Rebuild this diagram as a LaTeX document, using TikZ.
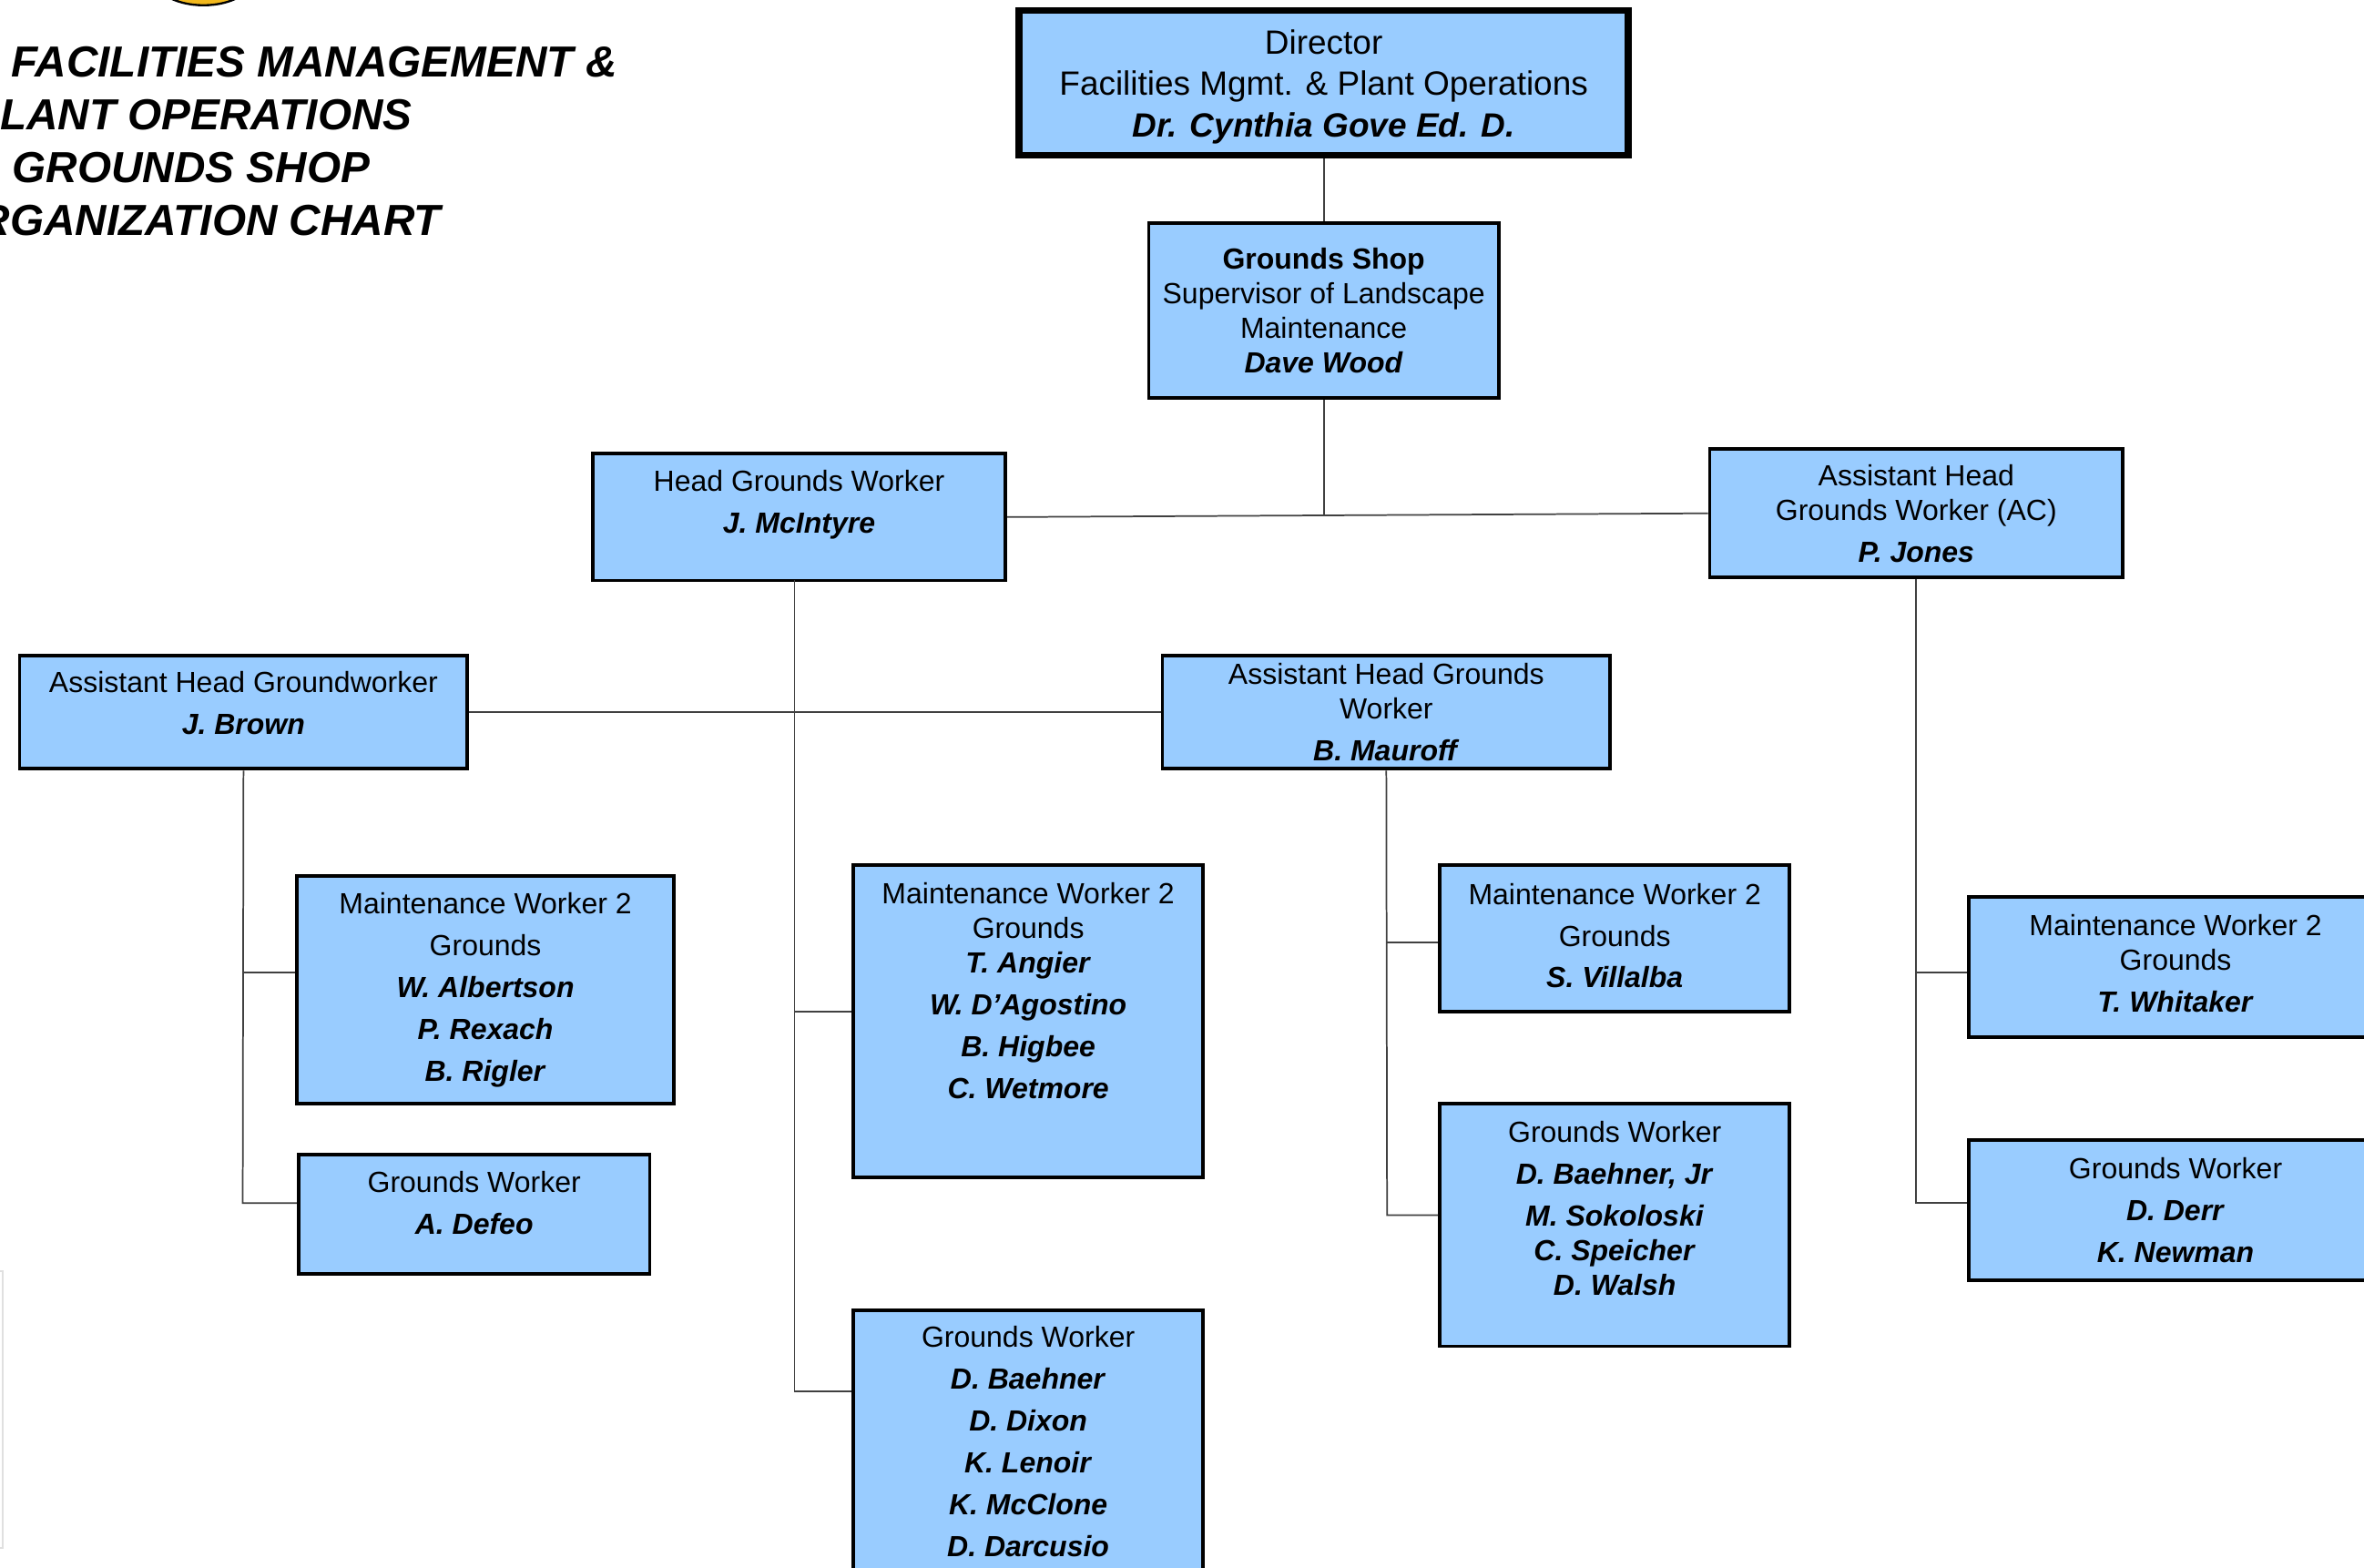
\documentclass[tikz,border=0pt]{standalone}
\usepackage{fontspec}
\setmainfont{Liberation Sans}
\usepackage{xcolor}
\definecolor{box_blue}{HTML}{99CCFF}
\definecolor{seal_gold}{HTML}{F2B81C}
\definecolor{line_gray}{HTML}{404040}
\newcommand{\who}[1]{\textbf{\textit{#1}}}
\newcommand{\gap}{1.4pt}
\newcommand{\padbot}[1]{\\[\dimexpr#1-6.5pt\relax]\mbox{}}
\tikzset{
    orgbox/.style={draw=black, fill=box_blue, line width=0.65pt, align=center, inner sep=0pt,
        font=\fontsize{5.5}{6.5}\selectfont},
    topbox/.style={orgbox, line width=1.3pt, font=\fontsize{6.35}{7.8}\selectfont},
    titleline/.style={anchor=east, inner sep=0pt, font=\fontsize{8.2}{10}\selectfont\bfseries\itshape},
    orgline/.style={line_gray, line width=0.3pt}
}
\begin{document}
\begin{tikzpicture}
    \useasboundingbox (0,0) rectangle (15.68,-10.40);
    \clip (0,0) rectangle (15.68,-10.40);
    \fill[white] (0,0) rectangle (15.68,-10.40);
    % seal and page edge
    \draw[fill=seal_gold, line width=0.4pt] (1.35,0.16) ellipse [x radius=0.34, y radius=0.195];
    \draw[black!12, line width=0.4pt] (0,-8.43) -- (0.02,-8.43) -- (0.02,-10.27) -- (0,-10.27);
    % title
    \node[titleline] (title1) at (4.10,-0.41) {FACILITIES MANAGEMENT \&};
    \node[titleline] (title2) at (2.74,-0.76) {PLANT OPERATIONS};
    \node[titleline] (title3) at (2.46,-1.11) {GROUNDS SHOP};
    \node[titleline] (title4) at (2.93,-1.46) {ORGANIZATION CHART};
    % boxes
    \node[topbox, minimum width=4.04cm, minimum height=0.96cm] (director) at (8.78,-0.55)
        {\rule{0pt}{6pt}Director\\Facilities Mgmt. \& Plant Operations\\\who{Dr. Cynthia Gove Ed. D.}};
    \node[orgbox, minimum width=2.32cm, minimum height=1.16cm] (shop) at (8.78,-2.06)
        {\textbf{Grounds Shop}\\Supervisor of Landscape\\Maintenance\\\who{Dave Wood}};
    \node[orgbox, minimum width=2.74cm, minimum height=0.84cm] (head) at (5.30,-3.43)
        {Head Grounds Worker\\[\gap]\who{J. McIntyre}\padbot{5.7pt}};
    \node[orgbox, minimum width=2.74cm, minimum height=0.85cm] (asstac) at (12.71,-3.405)
        {Assistant Head\\Grounds Worker (AC)\\[\gap]\who{P. Jones}};
    \node[orgbox, minimum width=2.97cm, minimum height=0.75cm] (brown) at (1.615,-4.725)
        {Assistant Head Groundworker\\[\gap]\who{J. Brown}\padbot{3.4pt}};
    \node[orgbox, minimum width=2.97cm, minimum height=0.75cm] (mauroff) at (9.195,-4.725)
        {Assistant Head Grounds\\Worker\\[\gap]\who{B. Mauroff}};
    \node[orgbox, minimum width=2.50cm, minimum height=1.51cm] (mwleft) at (3.22,-6.565)
        {Maintenance Worker 2\\[\gap]Grounds\\[\gap]\who{W. Albertson}\\[\gap]\who{P. Rexach}\\[\gap]\who{B. Rigler}};
    \node[orgbox, minimum width=2.33cm, minimum height=0.79cm] (gwleft) at (3.145,-8.055)
        {Grounds Worker\\[\gap]\who{A. Defeo}\padbot{4.5pt}};
    \node[orgbox, minimum width=2.32cm, minimum height=2.07cm] (mwmid) at (6.82,-6.775)
        {Maintenance Worker 2\\Grounds\\\who{T. Angier}\\[\gap]\who{W. D'Agostino}\\[\gap]\who{B. Higbee}\\[\gap]\who{C. Wetmore}\padbot{11.6pt}};
    \node[orgbox, minimum width=2.32cm, minimum height=1.74cm] (gwmid) at (6.82,-9.56)
        {Grounds Worker\\[\gap]\who{D. Baehner}\\[\gap]\who{D. Dixon}\\[\gap]\who{K. Lenoir}\\[\gap]\who{K. McClone}\\[\gap]\who{D. Darcusio}};
    \node[orgbox, minimum width=2.32cm, minimum height=0.97cm] (mwright) at (10.71,-6.225)
        {Maintenance Worker 2\\[\gap]Grounds\\[\gap]\who{S. Villalba}\padbot{1.1pt}};
    \node[orgbox, minimum width=2.32cm, minimum height=1.61cm] (gwright) at (10.71,-8.125)
        {Grounds Worker\\[\gap]\who{D. Baehner, Jr}\\[\gap]\who{M. Sokoloski}\\\who{C. Speicher}\\\who{D. Walsh}\padbot{6.2pt}};
    \node[orgbox, minimum width=2.74cm, minimum height=0.93cm] (mwfar) at (14.43,-6.415)
        {Maintenance Worker 2\\Grounds\\[\gap]\who{T. Whitaker}\padbot{1.4pt}};
    \node[orgbox, minimum width=2.74cm, minimum height=0.93cm] (gwfar) at (14.43,-8.025)
        {Grounds Worker\\[\gap]\who{D. Derr}\\[\gap]\who{K. Newman}};
    % connector ends
    \coordinate (shopjoin) at (8.78,-3.42);
    \coordinate (headtrunk) at (5.27,-3.85);
    \coordinate (headmid) at (5.27,-6.71);
    \coordinate (headlow) at (5.27,-9.23);
    \coordinate (brownlow) at (1.61,-7.98);
    \coordinate (brownmid) at (1.61,-6.45);
    \coordinate (mauroffmid) at (9.20,-6.25);
    \coordinate (maurofflow) at (9.20,-8.06);
    \coordinate (aclow) at (12.71,-7.98);
    \coordinate (acmid) at (12.71,-6.45);
    % connectors
    \draw[orgline] (director.south) -- (shop.north);
    \draw[orgline] (shop.south) -- (shopjoin);
    \draw[orgline] (head.east) -- (asstac.west);
    \draw[orgline] (headtrunk) -- (headlow) -- (headlow -| gwmid.west);
    \draw[orgline] (headmid) -- (headmid -| mwmid.west);
    \draw[orgline] (brown.east) -- (mauroff.west);
    \draw[orgline] (brown.south) -- (brownlow) -- (brownlow -| gwleft.west);
    \draw[orgline] (brownmid) -- (brownmid -| mwleft.west);
    \draw[orgline] (mauroff.south) -- (maurofflow) -- (maurofflow -| gwright.west);
    \draw[orgline] (mauroffmid) -- (mauroffmid -| mwright.west);
    \draw[orgline] (asstac.south) -- (aclow) -- (aclow -| gwfar.west);
    \draw[orgline] (acmid) -- (acmid -| mwfar.west);
\end{tikzpicture}
\end{document}
